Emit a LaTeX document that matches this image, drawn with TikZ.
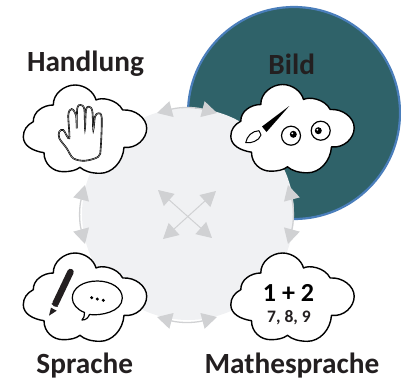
\documentclass[tikz,border=0pt]{standalone}
\usepackage{fontspec}
\setmainfont{Carlito}
\usetikzlibrary{arrows.meta}
\definecolor{tealdisc}{HTML}{2F6269}
\definecolor{blueedge}{HTML}{4A7EBB}
\definecolor{paledisc}{HTML}{F0F1F3}
\definecolor{arrowgray}{HTML}{D0D1D3}
\definecolor{inkdark}{HTML}{231F20}
\tikzset{
    caption/.style={font=\fontsize{29.3}{29.3}\selectfont\bfseries,text=inkdark,inner sep=0pt},
    swap/.style={draw=arrowgray,line width=1.3pt,
        {Triangle[length=15pt,width=16pt]}-{Triangle[length=15pt,width=16pt]}},
    icon/.style={draw=black,line width=1.2pt,line join=round},
    pics/cloud/.style={code={
        \draw[fill=white,draw=black,line width=1.4pt,line join=round]
            (30.3,20) .. controls (30,9) and (41,0) .. (52,0)
            .. controls (62,0) and (71,7) .. (73,15)
            .. controls (78,12) and (94,14) .. (99.7,25)
            .. controls (112,24) and (123.7,33) .. (123.7,43.3)
            .. controls (123.7,54) and (113,64) .. (101,62.3)
            .. controls (100,77) and (89,88.3) .. (77,88.3)
            .. controls (68,88.3) and (61,86) .. (57,82.3)
            .. controls (53,85.5) and (47,86.7) .. (40.3,86.7)
            .. controls (30,86.7) and (21,79) .. (21,67.7)
            .. controls (10,66) and (0.3,61) .. (0.3,51.7)
            .. controls (0.3,45) and (4,40) .. (10.3,36.7)
            .. controls (10,27) and (20,20) .. (30.3,20) -- cycle;
    }}
}
\begin{document}
\begin{tikzpicture}[x=1pt,y=-1pt]
    \useasboundingbox (0,0) rectangle (401,381);
    %% Discs
    \fill[tealdisc,draw=blueedge,line width=2.2pt] (294,113) circle[radius=106pt];
    \fill[paledisc] (188,214) circle[radius=106pt];
    %% Arrows around the disc
    \coordinate (TL) at (157,113);
    \coordinate (TR) at (217,113);
    \coordinate (LT) at (85,185);
    \coordinate (LB) at (85,244);
    \coordinate (RT) at (288,185);
    \coordinate (RB) at (288,244);
    \coordinate (BL) at (157,317);
    \coordinate (BR) at (217,317);
    \draw[swap] (TL) to[bend left=15] (TR);
    \draw[swap] (LT) to[bend right=15] (LB);
    \draw[swap] (RT) to[bend left=15] (RB);
    \draw[swap] (BL) to[bend right=15] (BR);
    %% Cross
    \coordinate (XNW) at (158,190);
    \coordinate (XSE) at (212,238);
    \coordinate (XNE) at (216,191);
    \coordinate (XSW) at (163,239);
    \draw[swap,line width=1pt] (XNW) -- (XSE);
    \draw[swap,line width=1pt] (XNE) -- (XSW);
    %% Clouds
    \pic at (23,85) {cloud};
    \pic at (230.5,84.5) {cloud};
    \pic at (23,253) {cloud};
    \pic at (230.5,253) {cloud};
    %% Hand
    \draw[draw=black,line width=.6pt,double=gray!70,double distance=.4pt]
        plot[smooth cycle,tension=.55] coordinates {
            (69.3,138.3) (68.3,115) (71.7,109) (76,115) (76.7,128.3)
            (77.3,108.3) (80.7,105) (84.3,109) (85,128.3)
            (86,110) (89,106.7) (92.3,111) (93.3,130)
            (95,116.7) (98.3,113.3) (101.7,117.7) (100.7,148) (98.3,156.7)
            (85,160.7) (73.3,158.3) (66.7,148.3) (59.3,138.3) (59.3,131.7) (63.3,130)};
    %% Brush
    \fill[black] (262,126.5) -- (289.3,106) -- (266.5,132) -- cycle;
    \draw[icon,fill=white,line width=1pt] (259,130.7) .. controls (252,131) and (247,136) .. (245.7,142.7)
        .. controls (251,143.5) and (259,141) .. (261,135) -- cycle;
    %% Eyes
    \draw[icon,fill=white] (291,135.7) circle[radius=9.5pt];
    \fill[black] (293.3,134.3) circle[radius=3.5pt];
    \fill[white] (292.3,133.3) circle[radius=1pt];
    \draw[icon,fill=white] (320.7,130.7) circle[radius=9.5pt];
    \fill[black] (318.3,130.7) circle[radius=3.5pt];
    \fill[white] (317.3,129.7) circle[radius=1pt];
    %% Pencil
    \draw[inkdark,line width=6.5pt,line cap=round] (70.5,272) -- (55.5,303.5);
    \draw[inkdark,line width=6.5pt] (55,304.5) -- (54.5,305.5);
    \fill[inkdark] (51,307.7) -- (56.7,310.7) -- (49,315.7) -- cycle;
    %% Speech bubble
    \draw[icon,fill=white]
        (89.5,314.5) .. controls (100,316) and (122.3,312) .. (122.3,298)
        .. controls (122.3,288) and (111,281) .. (97.3,281)
        .. controls (83,281) and (72.3,288) .. (72.3,298)
        .. controls (72.3,304) and (77,309.5) .. (84.5,312.5)
        .. controls (84.5,316) and (84,318) .. (82,320)
        .. controls (86,320) and (88,318) .. (89.5,314.5) -- cycle;
    \foreach \px/\py in {91.7/297.7,97.3/299,103.3/300.3}
        \fill[black] (\px,\py) circle[radius=1.7pt];
    %% Captions
    \node[caption] (handlung) at (85.5,64) {Handlung};
    \node[caption] (bild) at (291.7,64) {Bild};
    \node[caption] (sprache) at (84.7,366) {Sprache};
    \node[caption] (mathesprache) at (292,366) {Mathesprache};
    %% Numbers
    \node[font=\fontsize{26}{26}\selectfont\bfseries,inner sep=0pt] (sum) at (288.5,293) {1 + 2};
    \node[font=\fontsize{17.5}{17.5}\selectfont\bfseries,text=inkdark,inner sep=0pt] (digits) at (289,317.5) {7, 8, 9};
\end{tikzpicture}
\end{document}
